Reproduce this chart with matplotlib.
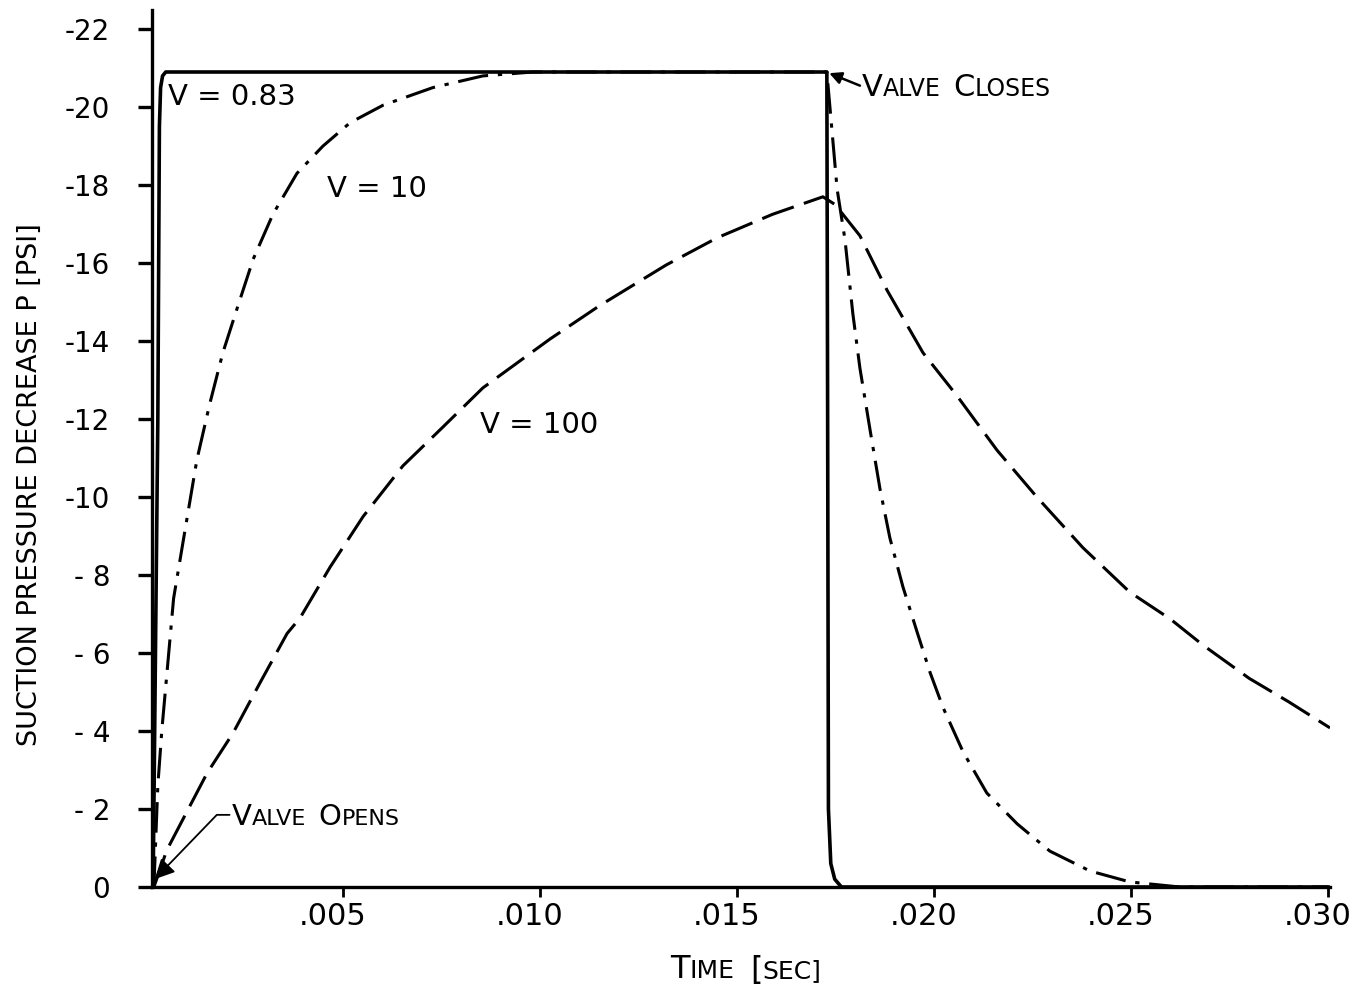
import matplotlib
matplotlib.use("Agg")
import matplotlib.pyplot as plt
from matplotlib.offsetbox import TextArea, HPacker, AnnotationBbox
import matplotlib.transforms as mtransforms

plt.rcParams['font.family'] = ['DejaVu Sans']

# DADOS - tempo [s], queda de pressao [psi] (modulo)

t_v083 = [0.00018, 0.00030, 0.00034, 0.00037, 0.00042, 0.00050, 0.0100, 0.01728,
          0.01730, 0.01732, 0.01738, 0.01748, 0.01765, 0.0300]
p_v083 = [0.0, 12.0, 19.5, 20.5, 20.8, 20.9, 20.9, 20.9,
          12.0, 2.0, 0.6, 0.2, 0.0, 0.0]

t_v10 = [0.0002, 0.0003, 0.0004, 0.0007, 0.00094, 0.00129, 0.00162, 0.00195, 0.0023,
         0.00272, 0.00322, 0.00383, 0.00449, 0.00518, 0.00602, 0.00728, 0.00855, 0.00982,
         0.01728, 0.01754, 0.01774, 0.01794, 0.01812, 0.01838, 0.01863, 0.01888, 0.01921,
         0.01957, 0.0199, 0.02023, 0.02074, 0.02134, 0.02211, 0.02294, 0.02396, 0.02497,
         0.02624, 0.0300]
p_v10 = [0.0, 2.6, 4.0, 7.4, 8.85, 10.95, 12.4, 13.7, 14.8,
         16.1, 17.25, 18.3, 19.0, 19.6, 20.05, 20.5, 20.8, 20.9,
         20.9, 17.9, 16.6, 14.7, 13.3, 11.7, 10.2, 8.95, 7.7,
         6.54, 5.5, 4.6, 3.46, 2.41, 1.62, 0.92, 0.41, 0.13,
         0.0, 0.0]

t_v100 = [0.0002, 0.00053, 0.00155, 0.00221, 0.00289, 0.00358, 0.00391, 0.00467, 0.00551,
          0.00652, 0.00754, 0.00855, 0.01025, 0.0115, 0.0132, 0.0145, 0.0159, 0.01718,
          0.01749, 0.01812, 0.01881, 0.01972, 0.02058, 0.0216, 0.02261, 0.02378, 0.02497,
          0.026, 0.02683, 0.0280, 0.0290, 0.03005]
p_v100 = [0.0, 0.95, 2.92, 3.95, 5.23, 6.5, 6.9, 8.2, 9.5,
          10.8, 11.8, 12.8, 14.05, 14.9, 15.95, 16.65, 17.25, 17.7,
          17.5, 16.7, 15.3, 13.7, 12.6, 11.2, 10.0, 8.7, 7.56,
          6.87, 6.2, 5.35, 4.75, 4.08]

x_ticks = [0.005, 0.010, 0.015, 0.020, 0.025, 0.030]
x_tick_labels = ['.005', '.010', '.015', '.020', '.025', '.030']
y_ticks = [0, 2, 4, 6, 8, 10, 12, 14, 16, 18, 20, 22]
y_tick_labels = ['0', '- 2', '- 4', '- 6', '- 8', '-10', '-12', '-14', '-16', '-18', '-20', '-22']

# FIGURA

fig = plt.figure(figsize=(13.52, 9.93), dpi=100)
ax = fig.add_axes([152/1352, 106/993, 1178/1352, 877/993])

ax.plot(t_v083, p_v083, color='black', lw=2.6, solid_joinstyle='round', zorder=4)
ax.plot(t_v10, p_v10, color='black', lw=2.2, linestyle=(0, (10, 3.2, 1.4, 3.2)), zorder=3)
ax.plot(t_v100, p_v100, color='black', lw=2.2, linestyle=(0, (11, 3.5)), zorder=3)

ax.set_xlim(0.000152, 0.03005)
ax.set_ylim(0, 22.49)

for s in ['top', 'right']:
    ax.spines[s].set_visible(False)
for s in ['left', 'bottom']:
    ax.spines[s].set_linewidth(2.4)

ax.set_xticks(x_ticks)
ax.set_xticklabels(x_tick_labels, fontsize=22)
ax.set_yticks(y_ticks)
ax.set_yticklabels(y_tick_labels, fontsize=20)
ax.tick_params(axis='y', direction='out', length=10, width=2.4, pad=20)
ax.tick_params(axis='x', direction='out', length=7, width=2.0, pad=4)

# rotulos do eixo x um pouco para a esquerda, como no original
desloca = mtransforms.ScaledTranslation(-0.10, 0, fig.dpi_scale_trans)
for lab in ax.get_xticklabels():
    lab.set_transform(lab.get_transform() + desloca)

# rotulos das curvas
ax.text(0.00056, 20.25, 'V = 0.83', fontsize=21, va='center', ha='left')
ax.text(0.0046, 17.9, 'V = 10', fontsize=21, va='center', ha='left')
ax.text(0.00848, 11.85, 'V = 100', fontsize=21, va='center', ha='left')


def versalete(texto, grande, pequeno, sep=9):
    # imita small caps: primeira letra maior, restante menor
    palavras = []
    for w in texto.split(' '):
        partes = [TextArea(w[0], textprops=dict(fontsize=grande))]
        if len(w) > 1:
            partes.append(TextArea(w[1:], textprops=dict(fontsize=pequeno)))
        palavras.append(HPacker(children=partes, align='baseline', pad=0, sep=0))
    return HPacker(children=palavras, align='baseline', pad=0, sep=sep)


ab = AnnotationBbox(versalete('VALVE CLOSES', 22, 17), (0.01817, 20.5), xycoords='data',
                    box_alignment=(0, 0.5), frameon=False, pad=0)
ax.add_artist(ab)
ax.annotate('', xy=(0.01734, 20.87), xytext=(0.01812, 20.55),
            arrowprops=dict(arrowstyle='-|>', color='black', lw=1.8,
                            mutation_scale=18, shrinkA=0, shrinkB=0))

ab = AnnotationBbox(versalete('VALVE OPENS', 21, 16), (0.00218, 1.8), xycoords='data',
                    box_alignment=(0, 0.5), frameon=False, pad=0)
ax.add_artist(ab)
ax.annotate('', xy=(0.00022, 0.2), xytext=(0.00212, 1.85),
            arrowprops=dict(arrowstyle='-|>', color='black', lw=1.3,
                            mutation_scale=30, shrinkA=0, shrinkB=0,
                            connectionstyle='angle,angleA=0,angleB=46,rad=0'))

# titulos dos eixos
ab = AnnotationBbox(versalete('TIME [SEC]', 23, 18, sep=11), (746/1352, 1 - 970/993),
                    xycoords='figure fraction', box_alignment=(0.5, 0.5), frameon=False, pad=0)
fig.add_artist(ab)
fig.text(30/1352, 1 - 485/993, 'SUCTION PRESSURE DECREASE P [PSI]', rotation=90,
         fontsize=19.5, ha='center', va='center')

fig.savefig('out.png', dpi=100)
